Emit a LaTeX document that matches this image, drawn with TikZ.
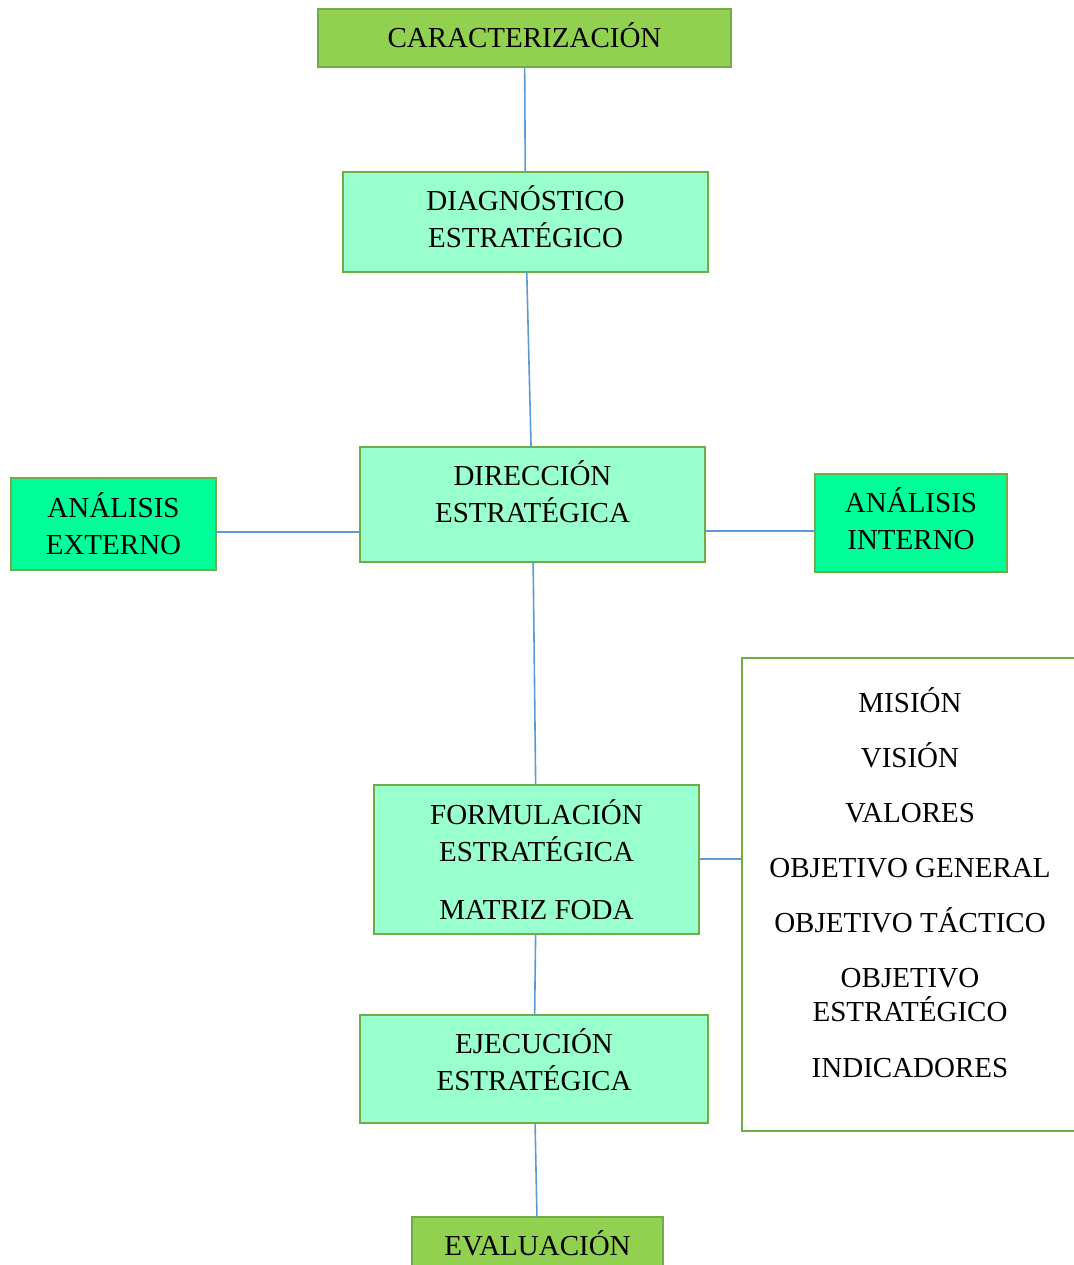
\documentclass[tikz,border=0pt]{standalone}
\usepackage{fontspec}
\setmainfont{Liberation Serif}
\usepackage{tikz}

\definecolor{verdeclaro}{HTML}{92D050}
\definecolor{menta}{HTML}{99FFCC}
\definecolor{esmeralda}{HTML}{00FF99}
\definecolor{borde}{HTML}{70AD47}
\definecolor{linea}{HTML}{5B9BD5}

\begin{document}
\begin{tikzpicture}[
            x=0.5pt, y=-0.5pt,
            font=\fontsize{14.5}{18.5}\selectfont,
            caja/.style={rectangle,draw=borde,line width=1.2pt,fill=#1,
                align=center, inner sep=0pt, outer sep=0pt},
            caja/.default=menta,
            item/.style={inner sep=0pt, text height=10pt, text depth=0pt},
            enlace/.style={draw=linea, line width=0.8pt}
        ]
        \useasboundingbox (0, 0) rectangle (1074, 1265);
        \clip (0, 0) rectangle (1074, 1265);

        % etapas
        \node[caja=verdeclaro, minimum width=206.5pt, minimum height=29pt,
            text depth=3pt] (car) at (524.5, 38) {CARACTERIZACIÓN};
        \node[caja, minimum width=182.5pt, minimum height=50pt,
            text depth=5pt] (diag) at (525.5, 222) {DIAGNÓSTICO\\ESTRATÉGICO};
        \node[caja, minimum width=172.5pt, minimum height=57.5pt,
            text depth=13pt] (dir) at (532.5, 504.5) {DIRECCIÓN\\ESTRATÉGICA};
        \node[caja=esmeralda, minimum width=102.5pt, minimum height=46pt]
            (ext) at (113.5, 524) {ANÁLISIS\\EXTERNO};
        \node[caja=esmeralda, minimum width=96pt, minimum height=49pt,
            text depth=4pt] (int) at (911, 523) {ANÁLISIS\\INTERNO};
        \node[caja, minimum width=162.5pt, minimum height=74.5pt]
            (form) at (536.5, 859.5) {FORMULACIÓN\\ESTRATÉGICA\\[10.5pt]MATRIZ FODA};
        \node[caja, minimum width=174pt, minimum height=54pt,
            text depth=9pt] (ejec) at (534, 1069) {EJECUCIÓN\\ESTRATÉGICA};
        \node[caja=verdeclaro, minimum width=125.5pt, minimum height=28pt,
            text depth=2pt] (eval) at (537.5, 1245) {EVALUACIÓN};

        % contenido de la formulacion
        \node[caja=white, minimum width=174pt, minimum height=236.5pt]
            (lista) at (916, 894.5) {};
        \node[item] (mision) at (910, 702) {MISIÓN};
        \node[item] (vision) at (910, 757) {VISIÓN};
        \node[item] (valores) at (910, 812) {VALORES};
        \node[item] (general) at (910, 867) {OBJETIVO GENERAL};
        \node[item] (tactico) at (910, 922) {OBJETIVO TÁCTICO};
        \node[item] (obj) at (910, 977) {OBJETIVO};
        \node[item] (estrat) at (910, 1011) {ESTRATÉGICO};
        \node[item] (indic) at (910, 1067) {INDICADORES};

        \draw[enlace] (car) -- (diag);
        \draw[enlace] (diag) -- (dir);
        \draw[enlace] (dir) -- (form);
        \draw[enlace] (form) -- (ejec);
        \draw[enlace] (ejec) -- (eval);
        \draw[enlace] ([yshift=-4pt]ext.east) -- ([yshift=-4pt]ext.east -| dir.west);
        \draw[enlace] ([yshift=-4pt]int.west) -- ([yshift=-4pt]int.west -| dir.east);
        \draw[enlace] ([yshift=0.25pt]form.east) -- ([yshift=0.25pt]form.east -| lista.west);
    \end{tikzpicture}
\end{document}
